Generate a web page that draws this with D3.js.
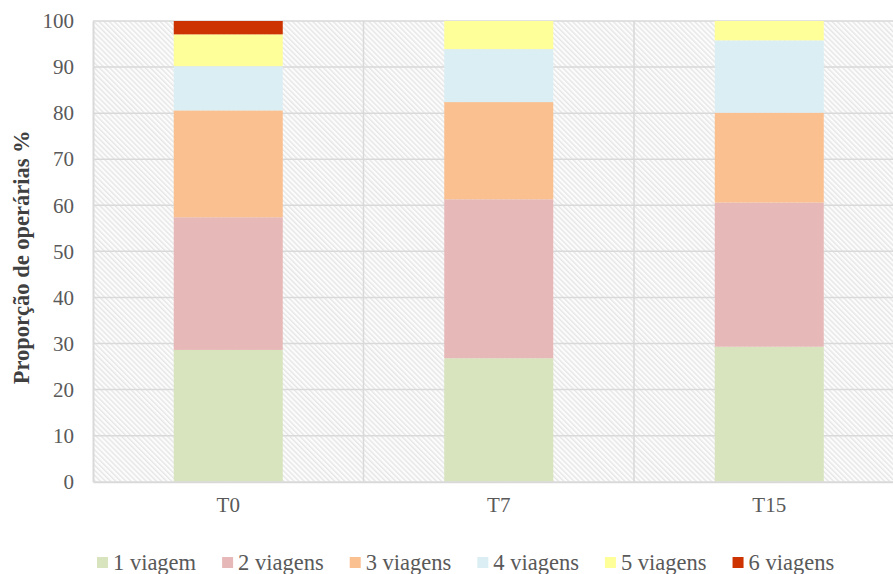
<!DOCTYPE html>
<html>
<head>
<meta charset="utf-8">
<script src="https://cdn.jsdelivr.net/npm/d3@7"></script>
<style>
body { margin:0; background:#ffffff; }
text { font-family: "Liberation Serif", "Times New Roman", serif; }
</style>
</head>
<body>
<div id="chart"></div>
<script>
var categories = ["T0", "T7", "T15"];
var seriesNames = ["1 viagem", "2 viagens", "3 viagens", "4 viagens", "5 viagens", "6 viagens"];
var viagem1 = [28.6, 26.8, 29.3];
var viagem2 = [28.8, 34.5, 31.3];
var viagem3 = [23.2, 21.1, 19.5];
var viagem4 = [9.6, 11.5, 15.7];
var viagem5 = [6.9, 6.1, 4.2];
var viagem6 = [2.9, 0, 0];
var yTicks = [0, 10, 20, 30, 40, 50, 60, 70, 80, 90, 100];
var colors = ["#d7e4bd", "#e6b9b8", "#fac090", "#dbeef4", "#ffff99", "#cc3300"];

var width  = 893;
var height = 574;
var margin = {left:93, right:-11.5, top:21, bottom:92.3};

var svg = d3.select("#chart").append("svg").attr("width", width).attr("height", height);

var defs = svg.append("defs");
var pat = defs.append("pattern").attr("id", "hatch").attr("patternUnits", "userSpaceOnUse")
              .attr("width", 3.6).attr("height", 3.6).attr("patternTransform", "rotate(-45)");
pat.append("rect").attr("width", 3.6).attr("height", 3.6).attr("fill", "#fcfcfc");
pat.append("rect").attr("width", 1.4).attr("height", 3.6).attr("fill", "#e6e6e6");

var x = d3.scaleBand().domain(categories).range([margin.left, width - margin.right]).padding(0);
var y = d3.scaleLinear().domain([0, 100]).range([height - margin.bottom, margin.top]);

var table = categories.map(function(c, i) {
    return {cat:c, "1 viagem":viagem1[i], "2 viagens":viagem2[i], "3 viagens":viagem3[i],
            "4 viagens":viagem4[i], "5 viagens":viagem5[i], "6 viagens":viagem6[i]};
});
var stacked = d3.stack().keys(seriesNames)(table);

// background
svg.append("rect").attr("x", margin.left).attr("y", margin.top)
   .attr("width", width - margin.left - margin.right).attr("height", y(0) - margin.top)
   .attr("fill", "url(#hatch)");

// gridlines
svg.append("g").selectAll("line").data(yTicks.slice(1)).enter().append("line")
   .attr("x1", margin.left).attr("x2", width).attr("y1", function(d){return y(d);}).attr("y2", function(d){return y(d);})
   .attr("stroke", "#d9d9d9").attr("stroke-width", 1.5);

svg.append("g").selectAll("line").data(categories.slice(1)).enter().append("line")
   .attr("x1", function(d){return x(d);}).attr("x2", function(d){return x(d);})
   .attr("y1", margin.top).attr("y2", y(0))
   .attr("stroke", "#d9d9d9").attr("stroke-width", 1.5);

// bars
var barW = x.bandwidth() * 0.403;
svg.append("g").selectAll("g").data(stacked).enter().append("g")
   .attr("fill", function(d, i){return colors[i];})
   .selectAll("rect").data(function(d){return d;}).enter().append("rect")
   .attr("x", function(d){return x(d.data.cat) + (x.bandwidth() - barW) / 2;})
   .attr("width", barW)
   .attr("y", function(d){return y(d[1]);})
   .attr("height", function(d){return y(d[0]) - y(d[1]);});

// axes
var yAxis = d3.axisLeft(y).tickValues(yTicks).tickSize(0).tickPadding(19);
var gy = svg.append("g").attr("transform", "translate(" + margin.left + ",0)").call(yAxis);
gy.attr("font-family", null);
gy.select(".domain").attr("stroke", "#d9d9d9").attr("stroke-width", 2);
gy.selectAll("text").attr("font-size", 21).attr("fill", "#595959");

var xAxis = d3.axisBottom(x).tickSize(0).tickPadding(15);
var gx = svg.append("g").attr("transform", "translate(0," + y(0) + ")").call(xAxis);
gx.attr("font-family", null);
gx.select(".domain").attr("stroke", "#d9d9d9").attr("stroke-width", 2);
gx.selectAll("text").attr("font-size", 21).attr("fill", "#595959");

// y title
svg.append("text").attr("transform", "translate(29," + ((margin.top + y(0)) / 2 + 6) + ") rotate(-90)")
   .attr("text-anchor", "middle").attr("font-size", 22.5).attr("font-weight", "bold").attr("fill", "#404040")
   .text("Proporção de operárias %");

// legend
var legend = svg.append("g").attr("transform", "translate(97,563)");
var lx = 0;
seriesNames.forEach(function(name, i) {
    var item = legend.append("g").attr("transform", "translate(" + lx + ",0)");
    item.append("rect").attr("x", 0).attr("y", -6).attr("width", 11).attr("height", 11).attr("fill", colors[i]);
    var t = item.append("text").attr("x", 16).attr("y", 7).attr("font-size", 22.5).attr("fill", "#595959").text(name);
    lx += 16 + t.node().getComputedTextLength() + 26;
});
</script>
</body>
</html>
